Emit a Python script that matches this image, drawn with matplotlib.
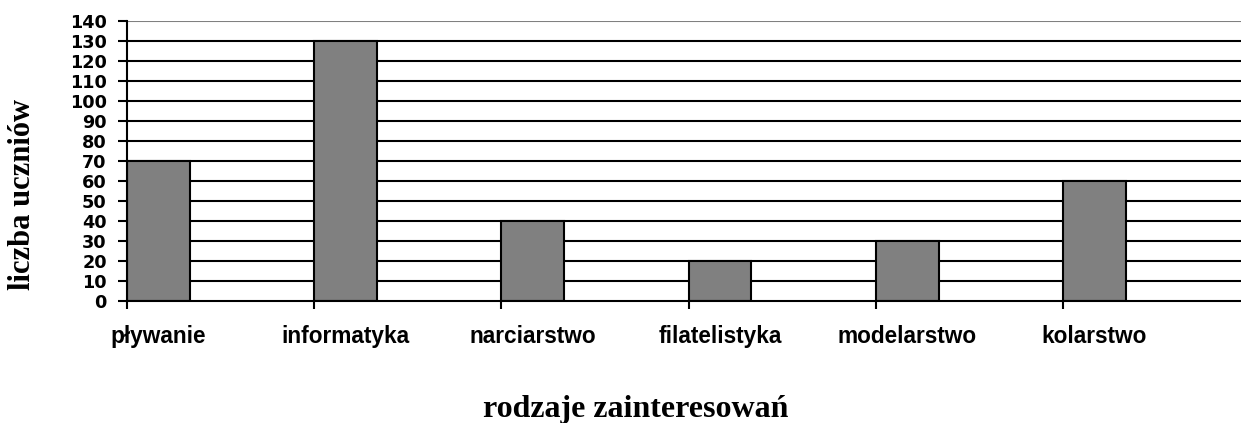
import numpy as np
import matplotlib
matplotlib.use("Agg")
from matplotlib import pyplot as plt
from matplotlib import transforms

# data
categories = ["pływanie", "informatyka", "narciarstwo", "filatelistyka", "modelarstwo", "kolarstwo"]
counts = [70, 130, 40, 20, 30, 60]
yticks = list(range(0, 141, 10))

W, H = 1241, 423
fig = plt.figure(figsize=(W / 100, H / 100), dpi=100)
ax = fig.add_axes([127 / W, 1 - 301 / H, 1 - 127 / W, 280 / H])

x = np.arange(len(categories))
bw = 0.335

# horizontal grid lines
for v in yticks[1:-1]:
    ax.axhline(v, color="black", lw=1.5, zorder=1)
ax.axhline(140, color="#808080", lw=1.5, zorder=1)

ax.bar(x, counts, width=bw, align="edge", color="#808080", edgecolor="black", lw=1.5, zorder=2)

ax.set_xlim(0, 5.95)
ax.set_ylim(0, 140)

for s in ["top", "right"]:
    ax.spines[s].set_visible(False)
ax.spines["left"].set_linewidth(1.5)
ax.spines["bottom"].set_linewidth(1.5)

ax.set_yticks(yticks)
ax.set_yticklabels([str(v) for v in yticks], fontsize=12.7, fontweight="bold", family="DejaVu Sans")
ax.tick_params(axis="y", length=6.5, width=1.5, pad=8)

ax.set_xticks(x)
ax.set_xticklabels([])
ax.tick_params(axis="x", length=6, width=1.5, direction="out")

# category labels below the axis
trans = transforms.blended_transform_factory(ax.transData, fig.transFigure)
for xi, name in zip(x, categories):
    ax.text(xi + bw / 2, 1 - 343 / H, name, transform=trans, ha="center", va="baseline",
            fontsize=16.3, fontweight="bold", family="Liberation Sans")

fig.text(23 / W, 1 - 194 / H, "liczba uczniów", rotation=90, ha="center", va="center",
         fontsize=22, fontweight="bold", family="Liberation Serif")
fig.text(636 / W, 1 - 417 / H, "rodzaje zainteresowań", ha="center", va="baseline",
         fontsize=23, fontweight="bold", family="Liberation Serif")

fig.savefig("out.png", dpi=100)
